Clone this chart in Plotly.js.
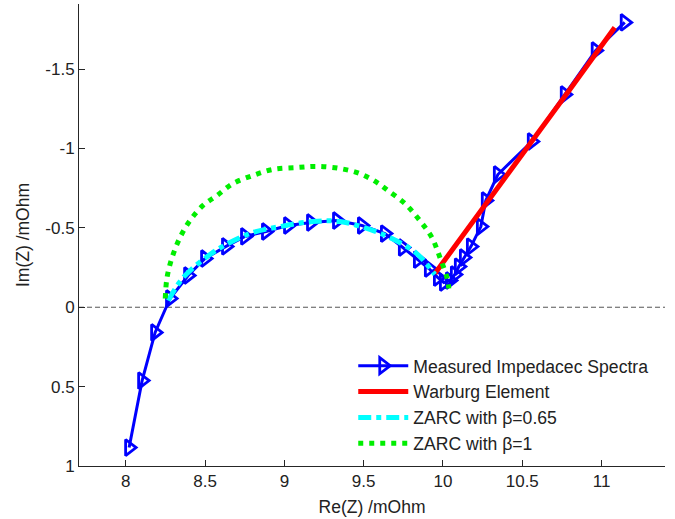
<!DOCTYPE html>
<html>
<head>
<meta charset="utf-8">
<script src="https://cdn.plot.ly/plotly-3.0.1.min.js"></script>
<style>html,body{margin:0;padding:0;background:#fff;}#chart{width:675px;height:519px;}</style>
</head>
<body>
<div id="chart"></div>
<script>
// Measured impedance spectra (Re, Im) in mOhm
var measuredRe = [8.021, 8.103, 8.185, 8.279, 8.393, 8.500, 8.632, 8.752, 8.884, 9.023, 9.168, 9.332, 9.489, 9.634, 9.747, 9.842, 9.911, 9.968, 10.006, 10.044, 10.075, 10.100, 10.132, 10.176, 10.239, 10.270, 10.346, 10.560, 10.768, 10.963, 11.146];
var measuredIm = [0.884, 0.462, 0.159, -0.055, -0.200, -0.307, -0.383, -0.446, -0.477, -0.515, -0.534, -0.546, -0.515, -0.464, -0.376, -0.300, -0.244, -0.187, -0.156, -0.168, -0.206, -0.256, -0.313, -0.382, -0.508, -0.672, -0.836, -1.044, -1.340, -1.617, -1.794];

// Warburg element
var warburgRe = [9.949, 10.125, 10.277, 10.440, 10.598, 10.800, 11.083];
var warburgIm = [-0.212, -0.450, -0.659, -0.880, -1.101, -1.372, -1.762];

// ZARC with beta = 0.65
var zarc065Re = [8.268, 8.362, 8.531, 8.657, 8.802, 8.972, 9.180, 9.350, 9.539, 9.677, 9.835, 9.949];
var zarc065Im = [-0.042, -0.187, -0.332, -0.408, -0.471, -0.508, -0.540, -0.540, -0.490, -0.433, -0.338, -0.206];

// ZARC with beta = 1
var zarc1Re = [8.249, 8.260, 8.292, 8.342, 8.405, 8.487, 8.575, 8.676, 8.802, 8.928, 9.079, 9.205, 9.350, 9.476, 9.583, 9.653, 9.760, 9.854, 9.930, 9.981, 10.025, 10.037];
var zarc1Im = [-0.055, -0.187, -0.313, -0.439, -0.546, -0.641, -0.704, -0.779, -0.830, -0.868, -0.880, -0.887, -0.874, -0.842, -0.786, -0.735, -0.653, -0.546, -0.439, -0.313, -0.187, -0.118];

var seriesNames = ["Measured Impedacec Spectra", "Warburg Element", "ZARC with \u03b2=0.65", "ZARC with \u03b2=1"];

var xTickVals = [8, 8.5, 9, 9.5, 10, 10.5, 11];
var xTickText = ["8", "8.5", "9", "9.5", "10", "10.5", "11"];
var yTickVals = [-1.5, -1, -0.5, 0, 0.5, 1];
var yTickText = ["-1.5", "-1", "-0.5", "0", "0.5", "1"];

var FONT = "Liberation Sans, Arial, sans-serif";

var traces = [
  {x: measuredRe, y: measuredIm, name: seriesNames[0], type: "scatter", mode: "lines+markers",
   line: {color: "#0000FF", width: 3},
   marker: {symbol: "triangle-right-open", size: 14, color: "#0000FF", line: {width: 2.8, color: "#0000FF"}}},
  {x: warburgRe, y: warburgIm, name: seriesNames[1], type: "scatter", mode: "lines",
   line: {color: "#FF0000", width: 5}},
  {x: zarc065Re, y: zarc065Im, name: seriesNames[2], type: "scatter", mode: "lines",
   line: {color: "#00FFFF", width: 5, dash: "13px,5px,5px,5px", shape: "spline"}},
  {x: zarc1Re, y: zarc1Im, name: seriesNames[3], type: "scatter", mode: "lines",
   line: {color: "#00EE00", width: 5, dash: "5px,6px", shape: "spline"}}
];

var layout = {
  width: 675, height: 519,
  margin: {l: 79, r: 10, t: 4, b: 53, pad: 0},
  paper_bgcolor: "#fff", plot_bgcolor: "#fff",
  font: {family: FONT, size: 17, color: "#222"},
  showlegend: true,
  legend: {x: 0.468, y: 0.256, xanchor: "left", yanchor: "top", bgcolor: "rgba(255,255,255,0)",
           font: {family: FONT, size: 17.6, color: "#222"}, itemwidth: 50, tracegroupgap: 0},
  xaxis: {range: [7.705, 11.40], tickvals: xTickVals, ticktext: xTickText,
          showgrid: false, zeroline: false, showline: true, linecolor: "#262626", linewidth: 1,
          ticks: "inside", ticklen: 6, tickcolor: "#262626", mirror: false,
          tickfont: {family: FONT, size: 17, color: "#222"},
          title: {text: "Re(Z) /mOhm", font: {family: FONT, size: 17.5, color: "#222"}, standoff: 10}},
  yaxis: {range: [1, -1.91], tickvals: yTickVals, ticktext: yTickText,
          showgrid: false, zeroline: false, showline: true, linecolor: "#262626", linewidth: 1,
          ticks: "inside", ticklen: 6, tickcolor: "#262626", mirror: false,
          tickfont: {family: FONT, size: 17, color: "#222"},
          title: {text: "Im(Z) /mOhm", font: {family: FONT, size: 17.5, color: "#222"}, standoff: 11}},
  shapes: [{type: "line", xref: "paper", yref: "y", x0: 0, x1: 1, y0: 0, y1: 0,
            line: {color: "#555", width: 1, dash: "5px,3px"}, layer: "below"}]
};

Plotly.newPlot("chart", traces, layout, {displayModeBar: false, staticPlot: true});
</script>
</body>
</html>
